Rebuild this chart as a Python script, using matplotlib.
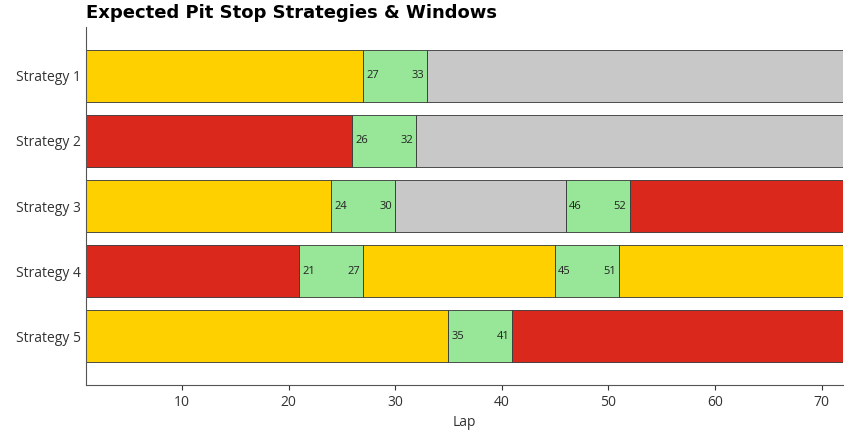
import matplotlib
matplotlib.use("Agg")
import matplotlib.pyplot as plt

strategies = ["Strategy 1", "Strategy 2", "Strategy 3", "Strategy 4", "Strategy 5"]
# stints: (start, end, compound)
stints = [
    [(1, 27, "M"), (33, 72, "H")],
    [(1, 26, "S"), (32, 72, "H")],
    [(1, 24, "M"), (30, 46, "H"), (52, 72, "S")],
    [(1, 21, "S"), (27, 45, "M"), (51, 72, "M")],
    [(1, 35, "M"), (41, 72, "S")],
]
windows = [
    [(27, 33)],
    [(26, 32)],
    [(24, 30), (46, 52)],
    [(21, 27), (45, 51)],
    [(35, 41)],
]
colors = {"S": "#DA291C", "M": "#FFD000", "H": "#C8C8C8", "W": "#98E698"}

plt.rcParams['font.family'] = ['Open Sans', 'DejaVu Sans']
fig = plt.figure(figsize=(8.65, 4.36), dpi=100)
ax = fig.add_axes([0.0994, 0.117, 0.875, 0.821])
h = 0.8
for i, name in enumerate(strategies):
    for s, e, c in stints[i]:
        ax.barh(i, e - s, left=s, height=h, color=colors[c], edgecolor="#333333", linewidth=0.6)
    for s, e in windows[i]:
        ax.barh(i, e - s, left=s, height=h, color=colors["W"], edgecolor="#333333", linewidth=0.6)
        ax.text(s + 0.3, i, str(s), ha="left", va="center", fontsize=8, color="#222222")
        ax.text(e - 0.3, i, str(e), ha="right", va="center", fontsize=8, color="#222222")

ax.set_xlim(1, 72)
ax.set_ylim(4.75, -0.75)
ax.set_yticks(range(len(strategies)))
ax.set_yticklabels(strategies, fontsize=10, color="#333333")
ax.set_xticks([10, 20, 30, 40, 50, 60, 70])
ax.tick_params(axis="x", labelsize=10, colors="#333333")
ax.tick_params(axis="y", length=0)
ax.set_xlabel("Lap", fontsize=10, color="#333333")
for sp in ["top", "right"]:
    ax.spines[sp].set_visible(False)
for sp in ["left", "bottom"]:
    ax.spines[sp].set_color("#555555")
    ax.spines[sp].set_linewidth(0.8)
fig.text(0.1, 0.97, "Expected Pit Stop Strategies & Windows", fontsize=13, fontweight="heavy",
         family="DejaVu Sans", ha="left", va="center")
fig.savefig("out.png", dpi=100)
